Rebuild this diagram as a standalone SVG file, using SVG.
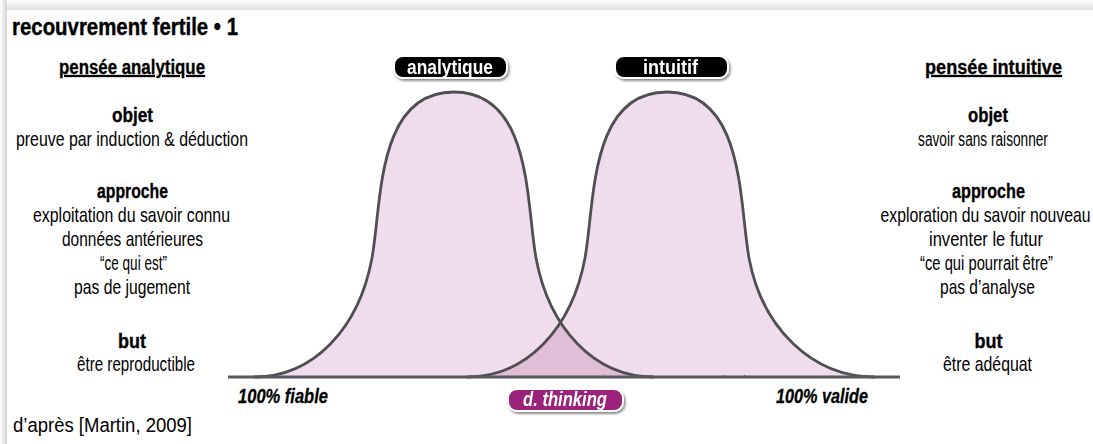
<svg xmlns="http://www.w3.org/2000/svg" width="1093" height="444" viewBox="0 0 1093 444">
<defs>
  <linearGradient id="gTop" x1="0" y1="0" x2="0" y2="1">
    <stop offset="0" stop-color="#ffffff"/>
    <stop offset="1" stop-color="#dedede"/>
  </linearGradient>
  <linearGradient id="gLeft" x1="0" y1="0" x2="1" y2="0">
    <stop offset="0" stop-color="#ffffff"/>
    <stop offset="1" stop-color="#d2d2d2"/>
  </linearGradient>
  <filter id="shadow" x="-20%" y="-40%" width="140%" height="190%">
    <feDropShadow dx="1.5" dy="2" stdDeviation="1.2" flood-color="#000" flood-opacity="0.45"/>
  </filter>
  <filter id="rough" x="-5%" y="-5%" width="110%" height="110%">
    <feTurbulence type="fractalNoise" baseFrequency="0.9" numOctaves="1" seed="3" result="n"/>
    <feDisplacementMap in="SourceGraphic" in2="n" scale="1.6" xChannelSelector="R" yChannelSelector="G"/>
  </filter>
  <path id="bellL" d="M254,377 C314,377 359,328 372,258 C382,203 376,92 454,92 C532,92 526,203 536,258 C549,328 594,377 654,377 Z"/>
  <path id="bellR" d="M467,377 C527,377 572,328 585,258 C595,203 589,92 667,92 C745,92 739,203 749,258 C762,328 812,377 875,377 Z"/>
  <clipPath id="clipL"><use href="#bellL"/></clipPath>
  <style>
    text { font-family: "Liberation Sans Narrow", "Liberation Sans", Arial, sans-serif; fill: #000; }
    .body { font-size: 21px; text-anchor: middle; }
    .head { font-size: 21px; font-weight: bold; text-anchor: middle; stroke: #000; stroke-width: 0.35; }
    .under { font-size: 20px; font-weight: bold; text-anchor: middle; text-decoration: underline; stroke: #000; stroke-width: 0.3; }
    .pill { fill: #000; stroke: #fff; stroke-width: 2; }
    .pilltext { font-size: 20px; font-weight: bold; fill: #fff; text-anchor: middle; }
    .bell { fill: #efdded; }
    .overlap { fill: #e1bed7; }
    .curve { fill: none; stroke: #505052; stroke-width: 2.8; stroke-linejoin: round; }
    .axis { fill: none; stroke: #58595b; stroke-width: 3.2; }
    .ends { font-size: 20px; font-weight: bold; font-style: italic; stroke: #000; stroke-width: 0.3; }
  </style>
</defs>

<!-- page background with card shadow -->
<rect x="0" y="0" width="1093" height="444" fill="#ffffff"/>
<rect x="0" y="0" width="1093" height="10" fill="url(#gTop)"/>
<rect x="0" y="0" width="7" height="444" fill="url(#gLeft)"/>
<rect x="7" y="10" width="1086" height="434" fill="#ffffff"/>

<text id="title" x="12" y="35" font-size="23" font-weight="bold" stroke="#000" stroke-width="0.4" textLength="226" lengthAdjust="spacingAndGlyphs">recouvrement fertile • 1</text>

<!-- curves -->
<g id="curves">
  <use href="#bellL" class="bell"/>
  <use href="#bellR" class="bell"/>
  <use href="#bellR" class="overlap" clip-path="url(#clipL)"/>
  <g filter="url(#rough)">
    <path class="curve" d="M254,377 C314,377 359,328 372,258 C382,203 376,92 454,92 C532,92 526,203 536,258 C549,328 594,377 654,377"/>
    <path class="curve" d="M467,377 C527,377 572,328 585,258 C595,203 589,92 667,92 C745,92 739,203 749,258 C762,328 812,377 875,377"/>
    <line class="axis" x1="228" y1="377" x2="900" y2="377"/>
  </g>
</g>

<!-- pills -->
<g id="pill-analytique" filter="url(#shadow)">
  <rect class="pill" x="394" y="56" width="113" height="22" rx="9"/>
  <text class="pilltext" x="450" y="73.5" textLength="86" lengthAdjust="spacingAndGlyphs">analytique</text>
</g>
<g id="pill-intuitif" filter="url(#shadow)">
  <rect class="pill" x="615" y="56" width="113" height="22" rx="9"/>
  <text class="pilltext" x="670.5" y="73.5" textLength="55" lengthAdjust="spacingAndGlyphs">intuitif</text>
</g>
<g id="pill-dthinking" filter="url(#shadow)">
  <rect x="508" y="389" width="115" height="22" rx="9" fill="#9b2279" stroke="#fff" stroke-width="2"/>
  <text class="pilltext" x="565" y="406" font-style="italic" textLength="84" lengthAdjust="spacingAndGlyphs">d. thinking</text>
</g>

<!-- axis labels -->
<g id="label-fiable"><text class="ends" x="238" y="403" textLength="90" lengthAdjust="spacingAndGlyphs">100% fiable</text></g>
<g id="label-valide"><text class="ends" x="776" y="403" textLength="92" lengthAdjust="spacingAndGlyphs">100% valide</text></g>

<!-- left column -->
<g id="col-analytique">
  <text class="under" x="132" y="74" textLength="146" lengthAdjust="spacingAndGlyphs">pensée analytique</text>
  <text class="head" x="132.5" y="122" textLength="41" lengthAdjust="spacingAndGlyphs">objet</text>
  <text class="body" x="132" y="146" textLength="232" lengthAdjust="spacingAndGlyphs">preuve par induction &amp; déduction</text>
  <text class="head" x="132.5" y="198" textLength="71" lengthAdjust="spacingAndGlyphs">approche</text>
  <text class="body" x="131.5" y="222" textLength="197" lengthAdjust="spacingAndGlyphs">exploitation du savoir connu</text>
  <text class="body" x="132.5" y="246" textLength="141" lengthAdjust="spacingAndGlyphs">données antérieures</text>
  <text class="body" x="133.5" y="270" textLength="67" lengthAdjust="spacingAndGlyphs">“ce qui est”</text>
  <text class="body" x="132" y="294" textLength="116" lengthAdjust="spacingAndGlyphs">pas de jugement</text>
  <text class="head" x="132" y="348" textLength="28" lengthAdjust="spacingAndGlyphs">but</text>
  <text class="body" x="136" y="371" textLength="118" lengthAdjust="spacingAndGlyphs">être reproductible</text>
</g>

<!-- right column -->
<g id="col-intuitive">
  <text class="under" x="993.5" y="74" textLength="137" lengthAdjust="spacingAndGlyphs">pensée intuitive</text>
  <text class="head" x="988" y="122" textLength="40" lengthAdjust="spacingAndGlyphs">objet</text>
  <text class="body" transform="translate(983,146) scale(0.651,1)" x="0" y="0">savoir sans raisonner</text>
  <text class="head" x="988.5" y="198" textLength="73" lengthAdjust="spacingAndGlyphs">approche</text>
  <text class="body" transform="translate(985.5,222) scale(0.75,1)" x="0" y="0">exploration du savoir nouveau</text>
  <text class="body" x="986" y="246" textLength="114" lengthAdjust="spacingAndGlyphs">inventer le futur</text>
  <text class="body" transform="translate(986.5,270) scale(0.703,1)" x="0" y="0">“ce qui pourrait être”</text>
  <text class="body" x="987.5" y="294" textLength="95" lengthAdjust="spacingAndGlyphs">pas d’analyse</text>
  <text class="head" x="988.5" y="348" textLength="28" lengthAdjust="spacingAndGlyphs">but</text>
  <text class="body" x="987.5" y="371" textLength="89" lengthAdjust="spacingAndGlyphs">être adéquat</text>
</g>

<text id="source" x="13" y="432" font-size="20" textLength="179" lengthAdjust="spacingAndGlyphs">d’après [Martin, 2009]</text>
</svg>
